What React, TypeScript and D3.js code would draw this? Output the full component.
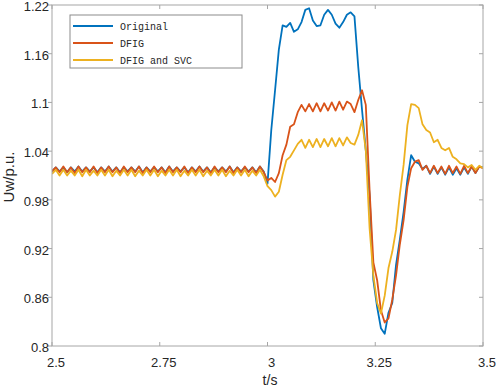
import * as d3 from "d3";
import { useEffect, useRef } from "react";

// sample grid: 2.5 s .. 3.5 s, half an oscillation period per step
const tStart = 2.5
const tStep = 1 / 114

const original = [
  1.015, 1.020, 1.015, 1.020, 1.014, 1.020, 1.015, 1.021, 1.015, 1.020, 1.015, 1.020, 1.014, 1.020, 1.015, 1.021, 1.015, 1.020, 1.014, 1.020,
  1.015, 1.020, 1.015, 1.021, 1.014, 1.020, 1.015, 1.020, 1.015, 1.020, 1.014, 1.021, 1.015, 1.020, 1.015, 1.020, 1.014, 1.020, 1.015, 1.021,
  1.015, 1.020, 1.014, 1.020, 1.015, 1.020, 1.015, 1.021, 1.014, 1.020, 1.015, 1.020, 1.015, 1.020, 1.014, 1.021, 1.015,
  1.000, 1.066, 1.115, 1.165, 1.195, 1.193, 1.198, 1.187, 1.190, 1.199, 1.214, 1.216, 1.201, 1.194, 1.195, 1.208, 1.214, 1.208, 1.197, 1.192,
  1.199, 1.208, 1.211, 1.206, 1.144, 1.091, 1.041, 0.986, 0.881, 0.848, 0.822, 0.815, 0.841, 0.853, 0.900, 0.931, 0.965, 1.005, 1.035, 1.027,
  1.025, 1.018, 1.022, 1.012, 1.021, 1.012, 1.020, 1.011, 1.020, 1.011, 1.019, 1.011, 1.020, 1.012, 1.021, 1.013, 1.021, 1.020
]

const dfig = [
  1.015, 1.020, 1.014, 1.021, 1.014, 1.020, 1.013, 1.021, 1.014, 1.020, 1.014, 1.021, 1.013, 1.020, 1.014, 1.021, 1.014, 1.020, 1.013, 1.021,
  1.014, 1.020, 1.014, 1.021, 1.013, 1.020, 1.014, 1.021, 1.014, 1.020, 1.013, 1.021, 1.014, 1.020, 1.014, 1.021, 1.013, 1.020, 1.014, 1.021,
  1.014, 1.020, 1.013, 1.021, 1.014, 1.020, 1.014, 1.021, 1.013, 1.020, 1.014, 1.021, 1.014, 1.020, 1.013, 1.021, 1.014,
  1.004, 1.007, 1.002, 1.013, 1.035, 1.048, 1.070, 1.073, 1.088, 1.097, 1.089, 1.098, 1.089, 1.099, 1.089, 1.099, 1.090, 1.100, 1.090, 1.101,
  1.091, 1.101, 1.098, 1.088, 1.103, 1.115, 1.097, 0.992, 0.903, 0.881, 0.844, 0.829, 0.834, 0.857, 0.887, 0.925, 0.955, 0.996, 1.019, 1.027,
  1.029, 1.017, 1.022, 1.013, 1.022, 1.013, 1.021, 1.012, 1.022, 1.013, 1.021, 1.012, 1.022, 1.013, 1.021, 1.013, 1.021, 1.019
]

const dfigSvc = [
  1.012, 1.017, 1.010, 1.017, 1.010, 1.016, 1.010, 1.017, 1.009, 1.017, 1.010, 1.016, 1.010, 1.017, 1.010, 1.017, 1.009, 1.016, 1.010, 1.017,
  1.010, 1.017, 1.009, 1.016, 1.010, 1.017, 1.010, 1.017, 1.009, 1.016, 1.010, 1.017, 1.010, 1.017, 1.009, 1.016, 1.010, 1.017, 1.010, 1.017,
  1.009, 1.016, 1.010, 1.017, 1.010, 1.017, 1.009, 1.016, 1.010, 1.017, 1.010, 1.017, 1.009, 1.016, 1.010, 1.017, 1.009,
  0.997, 0.992, 0.984, 0.990, 1.011, 1.029, 1.033, 1.041, 1.049, 1.054, 1.044, 1.054, 1.045, 1.055, 1.045, 1.055, 1.046, 1.056, 1.046, 1.056,
  1.047, 1.057, 1.050, 1.048, 1.060, 1.078, 1.041, 0.945, 0.887, 0.853, 0.840, 0.862, 0.896, 0.916, 0.943, 0.986, 1.023, 1.072, 1.098, 1.097,
  1.093, 1.073, 1.066, 1.063, 1.051, 1.054, 1.044, 1.041, 1.044, 1.033, 1.030, 1.025, 1.024, 1.020, 1.023, 1.017, 1.022, 1.019
]

const seriesNames = ["Original", "DFIG", "DFIG and SVC"]
const seriesColors = ["#0072BD", "#D95319", "#EDB120"]
const xTicks = [2.5, 2.75, 3, 3.25, 3.5]
const yTicks = [0.8, 0.86, 0.92, 0.98, 1.04, 1.1, 1.16, 1.22]

export default function App() {
  const ref = useRef<SVGSVGElement>(null)

  useEffect(() => {
    const svg = d3.select(ref.current)
    svg.selectAll("*").remove()

    const left = 52, right = 483, top = 5, bottom = 346
    const x = d3.scaleLinear().domain([2.5, 3.5]).range([left, right])
    const y = d3.scaleLinear().domain([0.8, 1.22]).range([bottom, top])
    const axisColor = "#a6a6a6"
    const textColor = "#262626"
    const font = "'Liberation Sans', Arial, sans-serif"

    svg.append("rect").attr("width", 498).attr("height", 388).attr("fill", "white")

    svg.append("clipPath").attr("id", "plotclip").append("rect")
      .attr("x", left).attr("y", top).attr("width", right - left).attr("height", bottom - top)

    const line = d3.line<number>()
      .x((d, i) => x(tStart + i * tStep))
      .y(d => y(d))

    const all = [original, dfig, dfigSvc]
    all.forEach((s, k) => {
      svg.append("path")
        .attr("d", line(s))
        .attr("fill", "none")
        .attr("stroke", seriesColors[k])
        .attr("stroke-width", 1.8)
        .attr("stroke-linejoin", "round")
        .attr("clip-path", "url(#plotclip)")
    })

    // box
    svg.append("rect")
      .attr("x", left).attr("y", top).attr("width", right - left).attr("height", bottom - top)
      .attr("fill", "none").attr("stroke", axisColor).attr("stroke-width", 1)

    // ticks
    xTicks.forEach(t => {
      svg.append("line").attr("x1", x(t)).attr("x2", x(t)).attr("y1", bottom).attr("y2", bottom - 4).attr("stroke", axisColor)
      svg.append("line").attr("x1", x(t)).attr("x2", x(t)).attr("y1", top).attr("y2", top + 4).attr("stroke", axisColor)
      svg.append("text").attr("x", x(t) + 4).attr("y", 367)
        .attr("text-anchor", "middle").attr("font-family", font).attr("font-size", 13).attr("fill", textColor)
        .text(String(t))
    })
    yTicks.forEach(v => {
      svg.append("line").attr("x1", left - 4).attr("x2", left).attr("y1", y(v)).attr("y2", y(v)).attr("stroke", axisColor)
      svg.append("line").attr("x1", right - 4).attr("x2", right).attr("y1", y(v)).attr("y2", y(v)).attr("stroke", axisColor)
      svg.append("text").attr("x", 49).attr("y", y(v) + 6)
        .attr("text-anchor", "end").attr("font-family", font).attr("font-size", 13).attr("fill", textColor)
        .text(String(v))
    })

    svg.append("text").attr("x", 270).attr("y", 385)
      .attr("text-anchor", "middle").attr("font-family", font).attr("font-size", 14).attr("fill", textColor)
      .text("t/s")
    svg.append("text").attr("transform", "translate(14,177) rotate(-90)")
      .attr("text-anchor", "middle").attr("font-family", font).attr("font-size", 15).attr("fill", textColor)
      .text("Uw/p.u.")

    // legend
    const lg = svg.append("g")
    lg.append("rect").attr("x", 70).attr("y", 15).attr("width", 172).attr("height", 53)
      .attr("fill", "white").attr("stroke", "#8c8c8c").attr("stroke-width", 1)
    seriesNames.forEach((n, k) => {
      const ly = 26 + k * 17
      lg.append("line").attr("x1", 73).attr("x2", 113).attr("y1", ly).attr("y2", ly)
        .attr("stroke", seriesColors[k]).attr("stroke-width", 2)
      lg.append("text").attr("x", 120).attr("y", ly + 4)
        .attr("font-family", "'Liberation Mono', 'Courier New', monospace").attr("font-size", 10).attr("fill", textColor)
        .text(n)
    })
  }, [])

  return (
    <svg ref={ref} width={498} height={388}
      style={{ position: "absolute", left: 0, top: 0, display: "block" }} />
  )
}
